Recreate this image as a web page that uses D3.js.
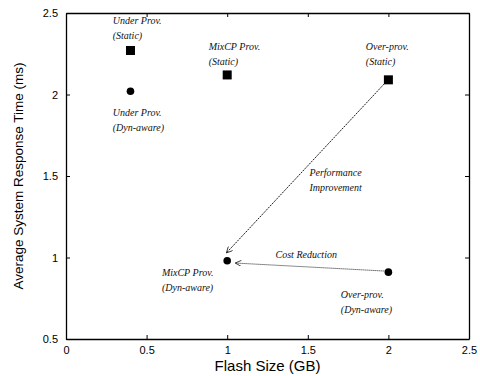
<!DOCTYPE html>
<html>
<head>
<meta charset="utf-8">
<script src="https://cdn.jsdelivr.net/npm/d3@7"></script>
<style>
  body { margin: 0; background: #fff; }
  .tick text { font-family: "Liberation Sans", Arial, sans-serif; font-size: 11px; }
  .note { font-family: "Liberation Serif", "Times New Roman", serif; font-style: italic; font-size: 10px; fill: #111; }
</style>
</head>
<body>
<div id="chart"></div>
<script>
// data points: flash size (GB) vs response time (ms)
var staticPts = [
    { name: 'Under Prov.', x: 0.4, y: 2.27 },
    { name: 'MixCP Prov.', x: 1.0, y: 2.12 },
    { name: 'Over-prov.', x: 2.0, y: 2.09 }
];
var dynPts = [
    { name: 'Under Prov.', x: 0.4, y: 2.02 },
    { name: 'MixCP Prov.', x: 1.0, y: 0.98 },
    { name: 'Over-prov.', x: 2.0, y: 0.91 }
];
var xTicks = [0, 0.5, 1, 1.5, 2, 2.5];
var yTicks = [0.5, 1, 1.5, 2, 2.5];

// labels: [line1, line2, x, y] in data units (left edge / baseline of first line)
var notes = [
    ['Under Prov.', '(Static)', 0.29, 2.43],
    ['MixCP Prov.', '(Static)', 0.885, 2.27],
    ['Over-prov.', '(Static)', 1.86, 2.275],
    ['Under Prov.', '(Dyn-aware)', 0.29, 1.87],
    ['Performance', 'Improvement', 1.51, 1.5],
    ['MixCP Prov.', '(Dyn-aware)', 0.595, 0.885],
    ['Over-prov.', '(Dyn-aware)', 1.705, 0.75]
];
var arrows = [
    { from: [1.973, 2.064], to: [0.995, 1.028], dash: '2,1' },
    { from: [1.975, 0.917], to: [1.05, 0.966], dash: '1,1' }
];

var chart_width = 480;
var chart_height = 376;
var margin = { left: 66, right: 11, top: 13, bottom: 37 };

var svg = d3.select('#chart')
    .append('svg')
    .attr('width', chart_width)
    .attr('height', chart_height);

var xScale = d3.scaleLinear()
    .domain([0, 2.5])
    .range([margin.left, chart_width - margin.right]);

var yScale = d3.scaleLinear()
    .domain([0.5, 2.5])
    .range([chart_height - margin.bottom, margin.top]);

var fmt = function(d) { return String(d); };

// axes with inward ticks on all sides
svg.append('g')
    .attr('transform', 'translate(0,' + (chart_height - margin.bottom) + ')')
    .call(d3.axisBottom(xScale).tickValues(xTicks).tickFormat(fmt).tickSizeInner(-4).tickSizeOuter(0).tickPadding(7));
svg.append('g')
    .attr('transform', 'translate(0,' + margin.top + ')')
    .call(d3.axisTop(xScale).tickValues(xTicks).tickFormat('').tickSizeInner(-4).tickSizeOuter(0));
svg.append('g')
    .attr('transform', 'translate(' + margin.left + ',0)')
    .call(d3.axisLeft(yScale).tickValues(yTicks).tickFormat(fmt).tickSizeInner(-4).tickSizeOuter(0).tickPadding(8));
svg.append('g')
    .attr('transform', 'translate(' + (chart_width - margin.right) + ',0)')
    .call(d3.axisRight(yScale).tickValues(yTicks).tickFormat('').tickSizeInner(-4).tickSizeOuter(0));

svg.selectAll('.domain').attr('stroke', '#000').attr('stroke-width', 1.3);
svg.selectAll('.tick text').attr('fill', '#000');

// axis titles
svg.append('text')
    .attr('x', (xScale(0) + xScale(2.5)) / 2)
    .attr('y', 371)
    .attr('text-anchor', 'middle')
    .style('font-family', '"Liberation Sans", Arial, sans-serif')
    .style('font-size', '15px')
    .text('Flash Size (GB)');

svg.append('text')
    .attr('transform', 'translate(23,' + ((yScale(0.5) + yScale(2.5)) / 2) + ') rotate(-90)')
    .attr('text-anchor', 'middle')
    .style('font-family', '"Liberation Sans", Arial, sans-serif')
    .style('font-size', '13.5px')
    .text('Average System Response Time (ms)');

// arrowhead
svg.append('defs').append('marker')
    .attr('id', 'head')
    .attr('viewBox', '0 0 10 10')
    .attr('refX', 10).attr('refY', 5)
    .attr('markerWidth', 7).attr('markerHeight', 6)
    .attr('markerUnits', 'userSpaceOnUse')
    .attr('orient', 'auto')
    .append('path')
    .attr('d', 'M0,0 L10,5 L0,10')
    .attr('fill', 'none')
    .attr('stroke', '#000')
    .attr('stroke-width', 1.2);

svg.selectAll('line.arrow')
    .data(arrows)
    .enter()
    .append('line')
    .attr('class', 'arrow')
    .attr('x1', function(d) { return xScale(d.from[0]); })
    .attr('y1', function(d) { return yScale(d.from[1]); })
    .attr('x2', function(d) { return xScale(d.to[0]); })
    .attr('y2', function(d) { return yScale(d.to[1]); })
    .attr('stroke', '#000')
    .attr('stroke-width', 0.9)
    .attr('stroke-dasharray', function(d) { return d.dash; })
    .attr('marker-end', 'url(#head)');

// squares = static, circles = dynamic-aware
svg.selectAll('rect.pt')
    .data(staticPts)
    .enter()
    .append('rect')
    .attr('class', 'pt')
    .attr('x', function(d) { return xScale(d.x) - 4.5; })
    .attr('y', function(d) { return yScale(d.y) - 4.5; })
    .attr('width', 9)
    .attr('height', 9)
    .attr('fill', '#000');

svg.selectAll('circle')
    .data(dynPts)
    .enter()
    .append('circle')
    .attr('cx', function(d) { return xScale(d.x); })
    .attr('cy', function(d) { return yScale(d.y); })
    .attr('r', 3.8)
    .attr('fill', '#000');

// annotations
var g = svg.selectAll('text.note')
    .data(notes)
    .enter()
    .append('text')
    .attr('class', 'note')
    .attr('x', function(d) { return xScale(d[2]); })
    .attr('y', function(d) { return yScale(d[3]); });
g.append('tspan').text(function(d) { return d[0]; });
g.append('tspan')
    .attr('x', function(d) { return xScale(d[2]); })
    .attr('dy', 15)
    .text(function(d) { return d[1]; });

svg.append('text')
    .attr('class', 'note')
    .attr('x', xScale(1.3))
    .attr('y', yScale(1.0))
    .text('Cost Reduction');
</script>
</body>
</html>
